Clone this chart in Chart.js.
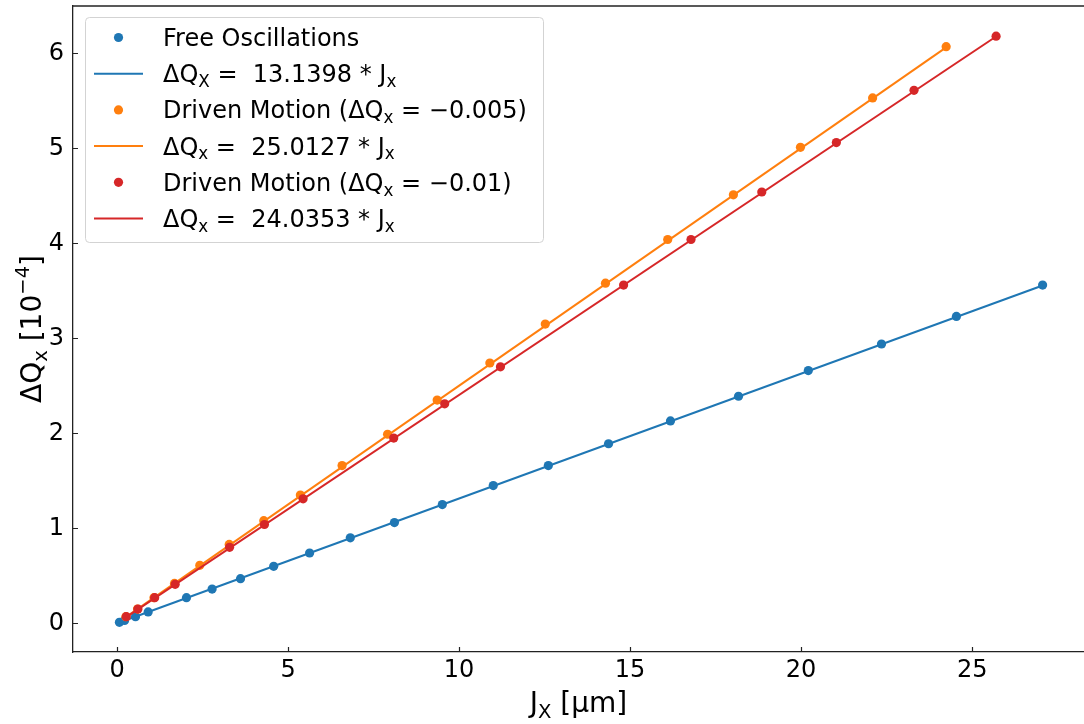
<!DOCTYPE html>
<html lang="en">
<head>
  <meta charset="UTF-8">
  <title>Tune shift vs action</title>
  <script src="https://cdn.jsdelivr.net/npm/chart.js"></script>
  <style>
    body { margin: 0; background: #fff; }
    canvas { display: block; }
  </style>
</head>
<body>
  <canvas id="tuneChart" width="1084" height="724"></canvas>

  <script>
    // values: J_x in um, dQ_x in units of 1e-4
    const freeJx = [0.07, 0.22, 0.54, 0.91, 2.03, 2.78, 3.61, 4.58, 5.63, 6.82, 8.11, 9.51, 11.00, 12.61, 14.37, 16.18, 18.17, 20.21, 22.35, 24.54, 27.06];
    const freeDQ = [0.01, 0.03, 0.07, 0.12, 0.27, 0.36, 0.47, 0.60, 0.74, 0.90, 1.06, 1.25, 1.45, 1.66, 1.89, 2.13, 2.39, 2.66, 2.94, 3.23, 3.56];

    const driven005Jx = [0.26, 0.60, 1.08, 1.68, 2.42, 3.28, 4.29, 5.36, 6.58, 7.91, 9.36, 10.90, 12.52, 14.28, 16.10, 18.02, 19.98, 22.09, 24.24];
    const driven005DQ = [0.07, 0.15, 0.27, 0.42, 0.61, 0.83, 1.08, 1.35, 1.66, 1.99, 2.35, 2.74, 3.15, 3.58, 4.04, 4.51, 5.01, 5.53, 6.07];

    const driven01Jx = [0.27, 0.61, 1.10, 1.70, 3.29, 4.31, 5.44, 8.09, 9.58, 11.21, 14.81, 16.78, 18.85, 21.03, 23.30, 25.70];
    const driven01DQ = [0.07, 0.15, 0.27, 0.41, 0.80, 1.04, 1.31, 1.95, 2.31, 2.70, 3.56, 4.04, 4.54, 5.06, 5.61, 6.18];

    // fitted slopes from the legend
    const fitSlopes = [13.1398, 25.0127, 24.0353];

    const xTicks = [0, 5, 10, 15, 20, 25];
    const yTicks = [0, 1, 2, 3, 4, 5, 6];

    const BLUE = '#1f77b4', ORANGE = '#ff7f0e', RED = '#d62728';
    const FONT = '"DejaVu Sans", sans-serif';

    const pts = (xs, ys) => xs.map((x, i) => ({ x, y: ys[i] }));
    // fit line dQ = k * J  (k in 1e-6/um -> 1e-4 units)
    const fitLine = (xs, k) => [xs[0], xs[xs.length - 1]].map(x => ({ x, y: k * x / 100 }));

    function scatterSet(data, color, order) {
      return { data, showLine: false, pointRadius: 4.6, pointHoverRadius: 4.6,
               pointBackgroundColor: color, pointBorderWidth: 0, borderColor: color, order };
    }
    function lineSet(data, color, order) {
      return { data, showLine: true, pointRadius: 0, borderColor: color, borderWidth: 2,
               fill: false, tension: 0, order };
    }

    // keep the plot box where we put it, labels may hang over
    function fixBox(s, size) {
      if (s.isHorizontal()) s.height = size; else s.width = size;
      s.paddingTop = 0; s.paddingBottom = 0; s.paddingLeft = 0; s.paddingRight = 0;
    }

    // draws text pieces with sub/superscripts, returns width
    function drawRich(ctx, parts, x, y, size, align) {
      const widths = parts.map(p => {
        ctx.font = (p.sub || p.sup ? size * 0.7 : size) + 'px ' + FONT;
        return ctx.measureText(p.t).width;
      });
      const total = widths.reduce((a, b) => a + b, 0);
      let cx = align === 'center' ? x - total / 2 : x;
      ctx.textBaseline = 'alphabetic';
      ctx.textAlign = 'left';
      parts.forEach((p, i) => {
        ctx.font = (p.sub || p.sup ? size * 0.7 : size) + 'px ' + FONT;
        let dy = 0;
        if (p.sub) dy = size * 0.2;
        if (p.sup) dy = -size * 0.42;
        ctx.fillText(p.t, cx, y + dy);
        cx += widths[i];
      });
      return total;
    }

    const legendRows = [
      { kind: 'dot', color: BLUE, parts: [{ t: 'Free Oscillations' }] },
      { kind: 'line', color: BLUE, parts: [{ t: 'ΔQ' }, { t: 'X', sub: true }, { t: ' =  13.1398 * J' }, { t: 'x', sub: true }] },
      { kind: 'dot', color: ORANGE, parts: [{ t: 'Driven Motion (ΔQ' }, { t: 'x', sub: true }, { t: ' = −0.005)' }] },
      { kind: 'line', color: ORANGE, parts: [{ t: 'ΔQ' }, { t: 'x', sub: true }, { t: ' =  25.0127 * J' }, { t: 'x', sub: true }] },
      { kind: 'dot', color: RED, parts: [{ t: 'Driven Motion (ΔQ' }, { t: 'x', sub: true }, { t: ' = −0.01)' }] },
      { kind: 'line', color: RED, parts: [{ t: 'ΔQ' }, { t: 'x', sub: true }, { t: ' =  24.0353 * J' }, { t: 'x', sub: true }] }
    ];

    const decorPlugin = {
      id: 'decor',
      afterDraw(chart) {
        const ctx = chart.ctx;
        const area = chart.chartArea;
        const xs = chart.scales.x, ys = chart.scales.y;
        ctx.save();

        // top spine (right one falls outside the picture)
        ctx.strokeStyle = '#222';
        ctx.lineWidth = 1.3;
        ctx.beginPath();
        ctx.moveTo(area.left, area.top);
        ctx.lineTo(area.right, area.top);
        ctx.stroke();

        // inward ticks
        ctx.lineWidth = 1.2;
        ctx.beginPath();
        xTicks.forEach(v => {
          const px = Math.round(xs.getPixelForValue(v)) + 0.5;
          ctx.moveTo(px, area.bottom);
          ctx.lineTo(px, area.bottom - 5);
        });
        yTicks.forEach(v => {
          const py = Math.round(ys.getPixelForValue(v)) + 0.5;
          ctx.moveTo(area.left, py);
          ctx.lineTo(area.left + 5, py);
        });
        ctx.stroke();

        // axis titles
        ctx.fillStyle = '#000';
        drawRich(ctx, [{ t: 'J' }, { t: 'X', sub: true }, { t: ' [µm]' }],
          (area.left + 1084) / 2, 712, 28, 'center');
        ctx.save();
        ctx.translate(41, (area.top + area.bottom) / 2);
        ctx.rotate(-Math.PI / 2);
        drawRich(ctx, [{ t: 'ΔQ' }, { t: 'x', sub: true }, { t: ' [10' }, { t: '−4', sup: true }, { t: ']' }],
          0, 0, 28, 'center');
        ctx.restore();

        // legend box
        const bx = 85, by = 17, bw = 458, bh = 225, r = 4;
        ctx.fillStyle = 'rgba(255,255,255,0.8)';
        ctx.strokeStyle = '#d3d3d3';
        ctx.lineWidth = 1;
        ctx.beginPath();
        ctx.roundRect(bx + 0.5, by + 0.5, bw, bh, r);
        ctx.fill();
        ctx.stroke();

        legendRows.forEach((row, i) => {
          const cy = 37.5 + i * 36.2;
          if (row.kind === 'dot') {
            ctx.fillStyle = row.color;
            ctx.beginPath();
            ctx.arc(118.5, cy, 4.6, 0, Math.PI * 2);
            ctx.fill();
          } else {
            ctx.strokeStyle = row.color;
            ctx.lineWidth = 2;
            ctx.beginPath();
            ctx.moveTo(94, cy);
            ctx.lineTo(143, cy);
            ctx.stroke();
          }
          ctx.fillStyle = '#000';
          drawRich(ctx, row.parts, 163, cy + 8.5, 24, 'left');
        });

        ctx.restore();
      }
    };

    new Chart(document.getElementById('tuneChart'), {
      type: 'scatter',
      data: {
        datasets: [
          scatterSet(pts(freeJx, freeDQ), BLUE, 6),
          lineSet(fitLine(freeJx, fitSlopes[0]), BLUE, 5),
          scatterSet(pts(driven005Jx, driven005DQ), ORANGE, 4),
          lineSet(fitLine(driven005Jx, fitSlopes[1]), ORANGE, 3),
          scatterSet(pts(driven01Jx, driven01DQ), RED, 2),
          lineSet(fitLine(driven01Jx, fitSlopes[2]), RED, 1)
        ]
      },
      options: {
        responsive: false,
        animation: false,
        devicePixelRatio: 1,
        layout: { autoPadding: false, padding: { top: 6, right: 0, left: 0, bottom: 0 } },
        plugins: { legend: { display: false }, tooltip: { enabled: false } },
        scales: {
          x: {
            type: 'linear',
            min: -1.287,
            max: 28.27,
            afterFit: s => fixBox(s, 72),
            afterBuildTicks: s => { s.ticks = xTicks.map(v => ({ value: v })); },
            grid: { display: false, drawTicks: false },
            border: { display: true, color: '#222', width: 1.3 },
            ticks: { color: '#000', font: { family: FONT, size: 24 }, padding: 4, maxRotation: 0 }
          },
          y: {
            type: 'linear',
            min: -0.302,
            max: 6.498,
            afterFit: s => fixBox(s, 73),
            afterBuildTicks: s => { s.ticks = yTicks.map(v => ({ value: v })); },
            grid: { display: false, drawTicks: false },
            border: { display: true, color: '#222', width: 1.3 },
            ticks: { color: '#000', font: { family: FONT, size: 24 }, padding: 9 }
          }
        }
      },
      plugins: [decorPlugin]
    });
  </script>
</body>
</html>
